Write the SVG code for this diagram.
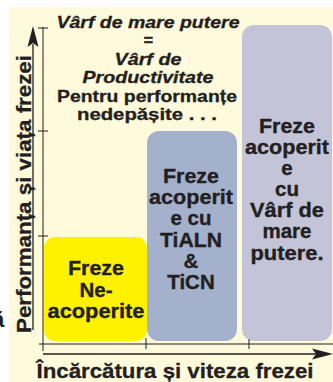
<svg xmlns="http://www.w3.org/2000/svg" width="333" height="382" viewBox="0 0 333 382">
<style>
text{font-family:"Liberation Sans",Arial,sans-serif;font-weight:bold;fill:#231F20;text-anchor:middle}
.top{font-size:16.5px;stroke:#231F20;stroke-width:0.3px}
.it{font-style:italic}
.box{font-size:20.5px;stroke:#231F20;stroke-width:0.35px}
.ax{font-size:21px;stroke:#231F20;stroke-width:0.3px}
.ln{stroke:#231F20;stroke-width:1;fill:none}
.ah{fill:#231F20;stroke:none}
</style>
<rect x="0" y="0" width="333" height="382" fill="#FFFFFF"/>
<rect x="9" y="7" width="324" height="375" fill="#FFFADB"/>
<text x="-8" y="327" style="text-anchor:start" font-size="22">ă</text>

<g id="title">
<text class="top it" x="148" y="28" textLength="183" lengthAdjust="spacingAndGlyphs">Vârf de mare putere</text>
<text class="top it" x="148" y="46">=</text>
<text class="top it" x="148" y="65" textLength="67" lengthAdjust="spacingAndGlyphs">Vârf de</text>
<text class="top it" x="148" y="83" textLength="131" lengthAdjust="spacingAndGlyphs">Productivitate</text>
<text class="top" x="147" y="102" textLength="180" lengthAdjust="spacingAndGlyphs">Pentru performanțe</text>
<text class="top" x="147" y="120" textLength="140" lengthAdjust="spacingAndGlyphs">nedepășite . . .</text>
</g>

<g id="node-neacoperite">
<rect x="44" y="237" width="103" height="104" rx="11" fill="#FFF200"/>
<text class="box" x="96" y="275" textLength="56" lengthAdjust="spacingAndGlyphs">Freze</text>
<text class="box" x="96" y="297">Ne-</text>
<text class="box" x="96" y="318" textLength="97" lengthAdjust="spacingAndGlyphs">acoperite</text>
</g>

<g id="node-tialn">
<rect x="147" y="131" width="90" height="210" rx="12" fill="#A3B1CD"/>
<text class="box" x="191" y="183" textLength="56" lengthAdjust="spacingAndGlyphs">Freze</text>
<text class="box" x="191" y="204" textLength="84" lengthAdjust="spacingAndGlyphs">acoperit</text>
<text class="box" x="191" y="225">e cu</text>
<text class="box" x="191" y="247" textLength="62" lengthAdjust="spacingAndGlyphs">TiALN</text>
<text class="box" x="191" y="268">&amp;</text>
<text class="box" x="191" y="289">TiCN</text>
</g>

<g id="node-varf">
<rect x="242" y="25" width="90" height="316" rx="12" fill="#C4C4D9"/>
<text class="box" x="287" y="133" textLength="56" lengthAdjust="spacingAndGlyphs">Freze</text>
<text class="box" x="287" y="154" textLength="84" lengthAdjust="spacingAndGlyphs">acoperit</text>
<text class="box" x="287" y="175">e</text>
<text class="box" x="287" y="196">cu</text>
<text class="box" x="287" y="217" textLength="74" lengthAdjust="spacingAndGlyphs">Vârf de</text>
<text class="box" x="287" y="238">mare</text>
<text class="box" x="287" y="260" textLength="73" lengthAdjust="spacingAndGlyphs">putere.</text>
</g>

<g id="connectors">
<line class="ln" x1="33" y1="44" x2="33" y2="330" style="stroke-width:1.3"/>
<polygon class="ah" points="33,26 38.5,47 33,43 27.5,47"/>
<line class="ln" x1="43" y1="27" x2="43" y2="351"/>
<line class="ln" x1="38" y1="28" x2="48" y2="28"/>
<line class="ln" x1="38" y1="131" x2="48" y2="131"/>
<line class="ln" x1="38" y1="236" x2="48" y2="236"/>
<line class="ln" x1="39" y1="344" x2="333" y2="344"/>
<line class="ln" x1="146" y1="338" x2="146" y2="349"/>
<line class="ln" x1="249" y1="339" x2="249" y2="349"/>
<line class="ln" x1="43" y1="354" x2="316" y2="354" style="stroke-width:1.3"/>
<polygon class="ah" points="333,354 312,348.5 316,354 312,359.5"/>
</g>

<g id="axis-labels">
<text class="ax" x="175" y="378" textLength="277" lengthAdjust="spacingAndGlyphs">Încărcătura și viteza frezei</text>
<text class="ax" transform="translate(31,194) rotate(-90)" x="0" y="0" textLength="278" lengthAdjust="spacingAndGlyphs">Performanța și viața frezei</text>
</g>
</svg>
